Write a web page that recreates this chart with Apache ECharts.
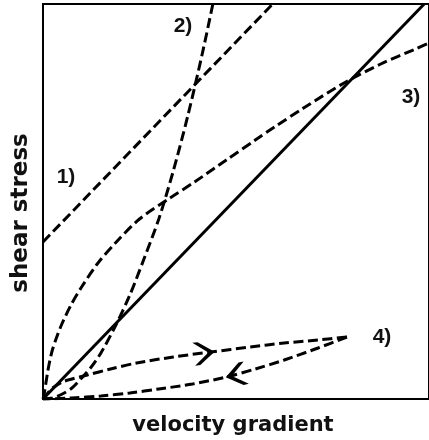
<!DOCTYPE html>
<html>
<head>
<meta charset="utf-8">
<script src="https://cdn.jsdelivr.net/npm/echarts@6/dist/echarts.min.js"></script>
<style>
html,body{margin:0;padding:0;background:#fff;}
#c{width:429px;height:440px;}
</style>
</head>
<body>
<div id="c"></div>
<script>
// Values (axis units: 0..400 velocity gradient, 0..395 shear stress)
const newtonX = [0, 395];
const newtonY = [0, 395];
const binghamX = [0, 238];
const binghamY = [157, 395];
const dilatantX = [0, 10, 20, 30, 40, 50, 60, 75, 90, 105, 120, 135, 150, 165, 176];
const dilatantY = [0, 1, 5, 11, 21, 32, 46, 73, 104, 141, 180, 228, 283, 345, 395];
const pseudoX = [0, 1, 3, 5, 7, 10, 15, 20, 29, 40, 57, 75, 100, 130, 157, 190, 220, 240, 270, 312, 350, 386, 400];
const pseudoY = [0, 4, 16, 28, 38, 50, 64, 76, 94, 112, 136, 156, 180, 200, 217, 239, 259, 272, 291, 316, 335, 350, 356];
const loopUpX = [0, 5, 10, 20, 30, 46, 70, 97, 135, 174, 215, 250, 285, 315];
const loopUpY = [0, 6, 11, 17, 20, 24, 30, 36, 42, 47, 52, 56, 59, 62];
const loopDownX = [315, 285, 250, 220, 190, 155, 120, 90, 60, 30, 0];
const loopDownY = [62, 51, 39, 30, 22, 15, 10, 6, 3, 1, 0];
const arrowX = [167, 200];
const arrowY = [46, 24];
const arrowAngle = [7, 193];
const curveLabels = ['1)', '2)', '3)', '4)'];
const xTitle = 'velocity gradient';
const yTitle = 'shear stress';

const zip = (xs, ys) => xs.map((x, i) => [x, ys[i]]);
const dash = { color: '#000', width: 3, type: [10, 4.5] };
const labelFont = 'bold 21px "Liberation Sans", Arial, sans-serif';
const chart = echarts.init(document.getElementById('c'));
chart.setOption({
  backgroundColor: '#fff',
  animation: false,
  grid: { left: 43, top: 4, width: 400, height: 395, show: true, borderColor: '#000', borderWidth: 2 },
  xAxis: { type: 'value', min: 0, max: 400, axisLine: { show: false }, axisTick: { show: false }, axisLabel: { show: false }, splitLine: { show: false } },
  yAxis: { type: 'value', min: 0, max: 395, axisLine: { show: false }, axisTick: { show: false }, axisLabel: { show: false }, splitLine: { show: false } },
  series: [
    { type: 'line', data: zip(newtonX, newtonY), symbol: 'none', lineStyle: { color: '#000', width: 3 } },
    { type: 'line', data: zip(binghamX, binghamY), symbol: 'none', lineStyle: dash },
    { type: 'line', data: zip(dilatantX, dilatantY), symbol: 'none', smooth: 0.3, lineStyle: dash },
    { type: 'line', data: zip(pseudoX, pseudoY), symbol: 'none', smooth: 0.3, lineStyle: dash },
    { type: 'line', data: zip(loopUpX, loopUpY), symbol: 'none', smooth: 0.3, lineStyle: dash },
    { type: 'line', data: zip(loopDownX, loopDownY), symbol: 'none', smooth: 0.3, lineStyle: dash },
    { type: 'scatter', silent: true,
      data: arrowX.map((x, i) => ({ value: [x, arrowY[i]], symbolRotate: arrowAngle[i] })),
      symbol: 'path://M0,0 L5,0 L20,12 L5,24 L0,24 L14,12 Z',
      symbolSize: [21, 23], itemStyle: { color: '#000', opacity: 1 } }
  ],
  graphic: [
    { type: 'text', x: 66, y: 177, style: { text: curveLabels[0], font: labelFont, fill: '#111', align: 'center', verticalAlign: 'middle' } },
    { type: 'text', x: 183, y: 26, style: { text: curveLabels[1], font: labelFont, fill: '#111', align: 'center', verticalAlign: 'middle' } },
    { type: 'text', x: 411, y: 97, style: { text: curveLabels[2], font: labelFont, fill: '#111', align: 'center', verticalAlign: 'middle' } },
    { type: 'text', x: 382, y: 337, style: { text: curveLabels[3], font: labelFont, fill: '#111', align: 'center', verticalAlign: 'middle' } },
    { type: 'text', x: 233, y: 426, style: { text: xTitle, font: 'bold 21px "DejaVu Sans", sans-serif', fill: '#111', align: 'center', verticalAlign: 'middle' } },
    { type: 'text', x: 21, y: 213, rotation: Math.PI / 2, style: { text: yTitle, font: 'bold 23px "DejaVu Sans", sans-serif', fill: '#111', align: 'center', verticalAlign: 'middle' } }
  ]
});
</script>
</body>
</html>
